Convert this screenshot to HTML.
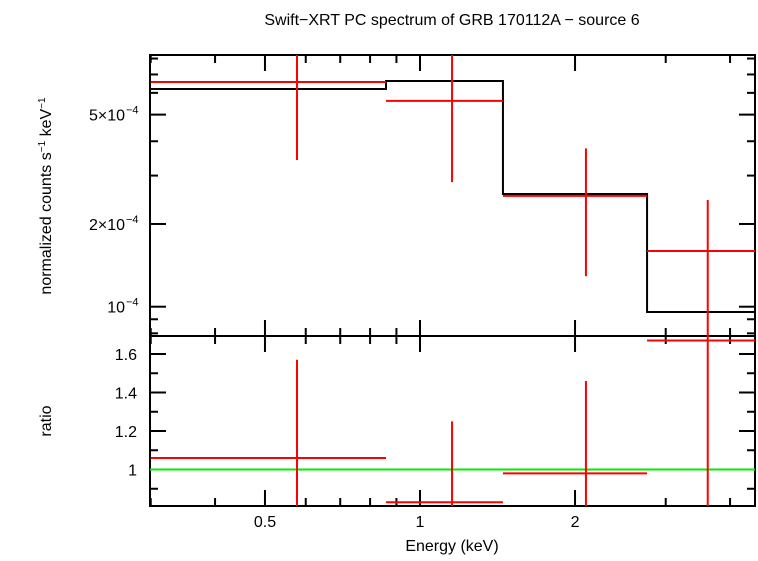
<!DOCTYPE html>
<html><head><meta charset="utf-8"><style>
body{margin:0;background:#fff;}
svg text{font-family:"Liberation Sans",Helvetica,sans-serif;fill:#000;}
</style></head><body>
<svg id="chart" width="758" height="556" xmlns="http://www.w3.org/2000/svg">
<text x="452" y="25" font-size="16" text-anchor="middle">Swift−XRT PC spectrum of GRB 170112A − source 6</text>
<g id="topPanel"></g>
<g id="botPanel"></g>
<text transform="translate(51,196) rotate(-90)" font-size="16" text-anchor="middle">normalized counts s<tspan font-size="10" dy="-6">−1</tspan><tspan dy="6"> keV</tspan><tspan font-size="10" dy="-6">−1</tspan></text>
<text transform="translate(51,421) rotate(-90)" font-size="16" text-anchor="middle">ratio</text>
<text x="452" y="551" font-size="16" text-anchor="middle">Energy (keV)</text>
</svg>
<script>
const binLo=[0.3,0.859,1.449,2.76];
const binHi=[0.859,1.449,2.76,4.47];
const binCenter=[0.577,1.154,2.10,3.62];
const dataVal=[6.57e-4,5.61e-4,2.53e-4,1.595e-4];
const dataErr=[3.15e-4,2.77e-4,1.24e-4,0.85e-4];
const modelVal=[6.2e-4,6.63e-4,2.57e-4,0.957e-4];
const ratioVal=[1.06,0.83,0.98,1.67];
const ratioErr=[0.51,0.42,0.48,0.9];
const xTicks=[0.5,1,2];
const xTickLabels=["0.5","1","2"];
const xMinor=[0.3,0.4,0.6,0.7,0.8,0.9,3,4];
const yTopMajor=[1e-4,2e-4,5e-4];
const yTopLabels=["10","2×10","5×10"];
const yTopMinor=[8e-5,9e-5,3e-4,4e-4,6e-4,7e-4,8e-4];
const yBotMajor=[1,1.2,1.4,1.6];
const yBotLabels=["1","1.2","1.4","1.6"];
const yBotMinor=[0.9,1.1,1.3,1.5];

const L=150,R=755,T1=55,B1=336,T2=336,B2=506;
const xs=e=>420+515*Math.log10(e);
const yt=v=>306.7-274.8*Math.log10(v/1e-4);
const yb=v=>469.5-192.5*(v-1);
const NS="http://www.w3.org/2000/svg";
function mk(p,tag,a){const e=document.createElementNS(NS,tag);for(const k in a)e.setAttribute(k,a[k]);p.appendChild(e);return e;}
const topG=document.getElementById('topPanel'),botG=document.getElementById('botPanel');
const clipT=v=>Math.max(T1,Math.min(B1,v)),clipB=v=>Math.max(T2,Math.min(B2,v));
const svg=document.getElementById('chart');

const ax=mk(svg,'g',{stroke:'#000','stroke-width':2,fill:'none'});


function xt(ys,len){[[ys[0],1],[ys[1],-1]].forEach(([y,s])=>{
 xTicks.forEach(e=>mk(ax,'line',{x1:xs(e),x2:xs(e),y1:y,y2:y+s*len*2}));
 xMinor.forEach(e=>mk(ax,'line',{x1:xs(e),x2:xs(e),y1:y,y2:y+s*len}));});}
xt([T1,B1],8);xt([T2,B2],8);
yTopMajor.forEach(v=>{const y=yt(v);mk(ax,'line',{x1:L,x2:L+16,y1:y,y2:y});mk(ax,'line',{x1:R,x2:R-16,y1:y,y2:y});});
yTopMinor.forEach(v=>{const y=yt(v);mk(ax,'line',{x1:L,x2:L+8,y1:y,y2:y});mk(ax,'line',{x1:R,x2:R-8,y1:y,y2:y});});
yBotMajor.forEach(v=>{const y=yb(v);mk(ax,'line',{x1:L,x2:L+16,y1:y,y2:y});mk(ax,'line',{x1:R,x2:R-16,y1:y,y2:y});});
yBotMinor.forEach(v=>{const y=yb(v);mk(ax,'line',{x1:L,x2:L+8,y1:y,y2:y});mk(ax,'line',{x1:R,x2:R-8,y1:y,y2:y});});
mk(ax,'rect',{x:L,y:T1,width:R-L,height:B2-T1});
mk(ax,'line',{x1:L,x2:R,y1:B1,y2:B1});

let d="";
for(let i=0;i<binLo.length;i++){const y=yt(modelVal[i]);d+=(i?"L":"M")+xs(binLo[i])+","+y+"L"+Math.min(R,xs(binHi[i]))+","+y;}
const m=mk(topG,'path',{d:d,fill:'none',stroke:'#000','stroke-width':2});


for(let i=0;i<dataVal.length;i++){
 const g=mk(topG,'g',{stroke:'#f00','stroke-width':2});
 
 
 const y=yt(dataVal[i]);
 mk(g,'line',{x1:xs(binLo[i]),x2:Math.min(R,xs(binHi[i])),y1:y,y2:y});
 mk(g,'line',{x1:xs(binCenter[i]),x2:xs(binCenter[i]),y1:clipT(yt(dataVal[i]+dataErr[i])),y2:clipT(yt(Math.max(1e-6,dataVal[i]-dataErr[i])))});
}
svg.appendChild(topG);svg.appendChild(botG);
const gl=mk(botG,'line',{x1:L,x2:R,y1:yb(1),y2:yb(1),stroke:'#0e0','stroke-width':2});


for(let i=0;i<ratioVal.length;i++){
 const g=mk(botG,'g',{stroke:'#f00','stroke-width':2});
 
 
 const y=yb(ratioVal[i]);
 mk(g,'line',{x1:xs(binLo[i]),x2:Math.min(R,xs(binHi[i])),y1:y,y2:y});
 mk(g,'line',{x1:xs(binCenter[i]),x2:xs(binCenter[i]),y1:clipB(yb(ratioVal[i]+ratioErr[i])),y2:clipB(yb(ratioVal[i]-ratioErr[i]))});
}
xTicks.forEach((e,i)=>{const t=mk(svg,'text',{x:xs(e),y:527,'font-size':16,'text-anchor':'middle'});t.textContent=xTickLabels[i];
 
 });
yTopMajor.forEach((v,i)=>{const t=mk(svg,'text',{x:125,y:yt(v)+6,'font-size':16,'text-anchor':'end'});t.textContent=yTopLabels[i];
 
 
 const s=mk(svg,'text',{x:126,y:yt(v)-1,'font-size':11});s.textContent="−4";
 
 });
yBotMajor.forEach((v,i)=>{const t=mk(svg,'text',{x:137,y:yb(v)+6,'font-size':16,'text-anchor':'end'});t.textContent=yBotLabels[i];
 
 });
</script>
</body></html>
